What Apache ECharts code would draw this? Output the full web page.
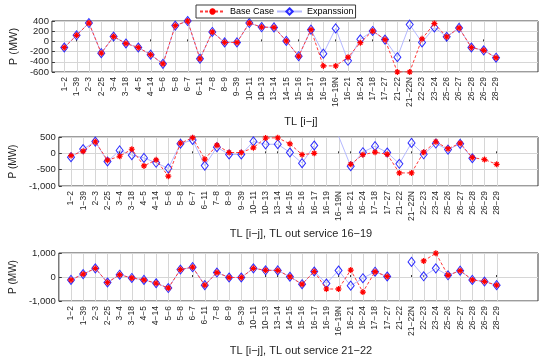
<!DOCTYPE html>
<html><head><meta charset="utf-8">
<script src="https://cdn.jsdelivr.net/npm/echarts@6/dist/echarts.min.js"></script>
<style>html,body{margin:0;padding:0;background:#fff}#c{width:550px;height:362px}</style>
</head><body><div id="c"></div>
<script>
const categories = ['1−2','1−39','2−3','2−25','3−4','3−18','4−5','4−14','5−6','5−8','6−7','6−11','7−8','8−9','9−39','10−11','10−13','13−14','14−15','15−16','16−17','16−19','16−19N','16−21','16−24','17−18','17−27','21−22','21−22N','22−23','23−24','25−26','26−27','26−28','26−29','28−29'];

// Subplot 1: base case vs expansion
const base1 = [-120,120,360,-230,95,-40,-120,-260,-440,310,400,-340,185,-20,-20,360,280,275,10,-290,230,-480,-480,-310,-25,205,35,-600,-600,50,350,90,265,-120,-175,-320];
const exp1  = [-120,120,360,-230,95,-40,-120,-260,-440,310,400,-340,185,-20,-20,360,280,275,10,-290,230,-240,255,-380,40,205,35,-310,330,-20,275,90,265,-120,-175,-320];

// Subplot 2: TL out of service 16-19
const base2 = [-70,65,355,-210,-90,125,-385,-200,-700,310,480,-180,250,25,25,170,470,475,290,-40,0,null,null,-335,-40,35,-30,-600,-600,35,355,140,310,-130,-190,-335];
const exp2  = [-120,130,360,-250,90,-55,-140,-290,-460,295,410,-375,190,-35,-35,365,275,280,25,-300,240,null,530,-395,35,220,25,-320,320,-30,300,115,290,-150,null,null];

// Subplot 3: TL out of service 21-22
const base3 = [-120,120,360,-230,95,-40,-120,-260,-460,310,410,-340,185,-20,-20,360,280,275,10,-300,230,-500,-500,290,-630,220,20,null,null,670,990,70,265,-120,-190,-340];
const exp3  = [-120,120,360,-230,95,-40,-120,-260,-460,310,410,-340,185,-20,-20,360,280,275,10,-300,230,-270,270,-360,-50,220,20,null,630,30,360,70,265,-120,-190,-340];

const axisTitles = ['TL [i−j]', 'TL [i−j], TL out service 16−19', 'TL [i−j], TL out service 21−22'];
const yMins = [-600, -1000, -1000];
const yMaxs = [400, 500, 1000];
const ySteps = [200, 500, 1000];
const yName = 'P (MW)';
const legendNames = ['Base Case', 'Expanssion'];

const bases = [base1, base2, base3];
const exps = [exp1, exp2, exp3];

const gridTops = [21, 137, 253];
const gridHeights = [51, 49, 48];
const titleTops = [111, 223, 340];
const nameGaps = [26, 30, 30];
const yNameSize = [11, 10, 10];

const N = categories.length;
const XMAX = 39.4;
const tickVals = categories.map((c, i) => i + 1);
const GRIDC = '#d6d6d6';

const asterisk = 'path://M5,0 L5,10 M0,5 L10,5 M1.6,1.6 L8.4,8.4 M1.6,8.4 L8.4,1.6';
const toData = arr => arr.map((v, i) => [i + 1, v === null ? '-' : v]);
const FONT = 'Liberation Sans, Arial, sans-serif';

const grids = [], xAxes = [], yAxes = [], series = [], titles = [];
for (let k = 0; k < 3; k++) {
  grids.push({left: 48, top: gridTops[k], width: 490, height: gridHeights[k], show: true, borderColor: '#3a3a3a', borderWidth: 1, backgroundColor: 'rgba(0,0,0,0)'});
  xAxes.push({
    type: 'value', gridIndex: k, min: 0, max: XMAX, interval: 1,
    axisLine: {show: false},
    axisTick: {show: true, inside: true, length: 2, customValues: tickVals, lineStyle: {color: '#3a3a3a'}},
    axisLabel: {
      show: true, customValues: tickVals, rotate: 90, margin: 5, fontSize: 8.5, color: '#262626',
      fontFamily: FONT,
      formatter: v => (Number.isInteger(v) && v >= 1 && v <= N) ? categories[v - 1] : ''
    },
    splitLine: {show: false}
  });
  yAxes.push({
    type: 'value', gridIndex: k, min: yMins[k], max: yMaxs[k], interval: ySteps[k],
    name: yName, nameLocation: 'middle', nameRotate: 90, nameGap: nameGaps[k],
    nameTextStyle: {fontSize: yNameSize[k], color: '#262626', fontFamily: FONT},
    axisLine: {show: false},
    axisTick: {show: true, inside: true, length: 3, lineStyle: {color: '#3a3a3a'}},
    axisLabel: {fontSize: 9.5, color: '#262626', margin: 3, fontFamily: FONT},
    splitLine: {show: true, lineStyle: {color: GRIDC, width: 1}}
  });
  titles.push({
    text: axisTitles[k], left: 296, top: titleTops[k], textAlign: 'center',
    textStyle: {fontSize: 11, fontWeight: 'normal', color: '#262626', fontFamily: FONT}
  });
  // vertical grid lines at each category tick
  const yMid = (yMins[k] + yMaxs[k]) / 2;
  series.push({
    name: '_grid' + k, type: 'custom', coordinateSystem: 'cartesian2d',
    xAxisIndex: k, yAxisIndex: k,
    data: tickVals.map(v => [v, yMid]), silent: true, z: 1, animation: false,
    encode: {x: 0, y: 1},
    renderItem: function (params, api) {
      const cs = params.coordSys;
      const x = Math.round(api.coord([api.value(0), api.value(1)])[0]);
      return {
        type: 'rect', silent: true,
        shape: {x: x, y: cs.y, width: 1, height: cs.height},
        style: {fill: GRIDC}
      };
    }
  });
  series.push({
    name: legendNames[1], type: 'line', xAxisIndex: k, yAxisIndex: k,
    data: toData(exps[k]), symbol: 'diamond', symbolSize: [7, 9],
    lineStyle: {color: '#b4b8ff', width: 1, type: 'solid'},
    itemStyle: {color: 'rgba(255,255,255,0)', borderColor: '#2b2bff', borderWidth: 1},
    connectNulls: false, animation: false, z: 2
  });
  series.push({
    name: legendNames[0], type: 'line', xAxisIndex: k, yAxisIndex: k,
    data: toData(bases[k]), symbol: asterisk, symbolSize: 6,
    lineStyle: {color: '#ff3a3a', width: 1, type: [3, 2]},
    itemStyle: {color: 'rgba(255,0,0,0)', borderColor: '#ff0000', borderWidth: 1.2},
    connectNulls: false, animation: false, z: 3
  });
}

const chart = echarts.init(document.getElementById('c'), null, {renderer: 'canvas'});
chart.setOption({
  animation: false,
  backgroundColor: '#fff',
  title: titles,
  legend: {
    data: legendNames, left: 196, top: 5, orient: 'horizontal',
    backgroundColor: '#fff', borderColor: '#3a3a3a', borderWidth: 1,
    padding: [2, 2, 2, 3], itemGap: 2, itemWidth: 25, itemHeight: 8,
    textStyle: {fontSize: 9, color: '#000', fontFamily: FONT}
  },
  grid: grids, xAxis: xAxes, yAxis: yAxes, series: series
});
</script></body></html>
